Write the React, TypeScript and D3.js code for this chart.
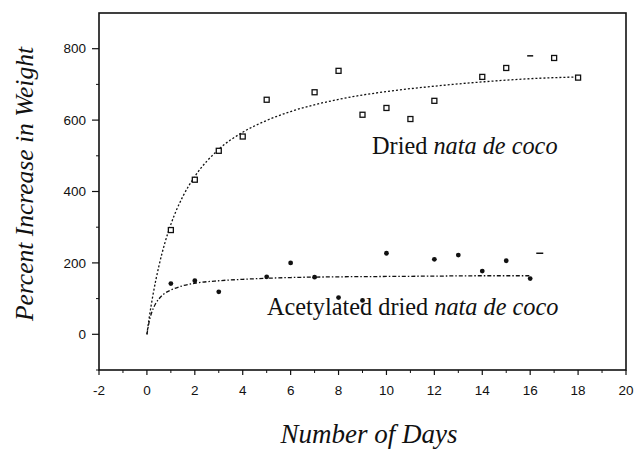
import React from "react";
import * as d3 from "d3";

const xTicks = [-2, 0, 2, 4, 6, 8, 10, 12, 14, 16, 18, 20];
const xMinorTicks = [-1, 1, 3, 5, 7, 9, 11, 13, 15, 17, 19];
const yTicks = [0, 200, 400, 600, 800];
const yMinorTicks = [-100, 100, 300, 500, 700];

const driedDays = [1, 2, 3, 4, 5, 7, 8, 9, 10, 11, 12, 14, 15, 17, 18];
const driedValues = [292, 433, 514, 554, 657, 678, 738, 615, 634, 603, 654, 721, 746, 774, 719];
const driedDashDays = [16];
const driedDashValues = [780];

const acetDays = [1, 2, 3, 5, 6, 7, 8, 9, 10, 12, 13, 14, 15, 16];
const acetValues = [142, 150, 119, 161, 200, 160, 103, 95, 227, 210, 222, 177, 206, 156];
const acetDashDays = [16.4];
const acetDashValues = [227];

const driedFitDays = [0, 0.1, 0.25, 0.5, 0.75, 1, 1.5, 2, 3, 4, 5, 6, 8, 10, 12, 14, 16, 18];
const driedFitValues = [0, 48, 109, 191, 256, 308, 386, 442, 518, 566, 599, 624, 658, 680, 695, 707, 716, 721];
const acetFitDays = [0, 0.1, 0.2, 0.35, 0.5, 0.75, 1, 1.5, 2, 3, 4, 6, 8, 10, 12, 14, 16];
const acetFitValues = [0, 37, 61, 84, 99, 115, 124, 136, 143, 150, 154, 159, 161, 162, 163, 164, 164];

const W = 634;
const H = 449;
const L = 99, R = 626, T = 13, B = 370;

export default function App() {
  const x = d3.scaleLinear().domain([-2, 20]).range([L, R]);
  const y = d3.scaleLinear().domain([-100, 900]).range([B, T]);
  const line = d3
    .line<[number, number]>()
    .x((d) => x(d[0]))
    .y((d) => y(d[1]))
    .curve(d3.curveMonotoneX);
  const driedFit = line(driedFitDays.map((d, i) => [d, driedFitValues[i]]) as [number, number][]);
  const acetFit = line(acetFitDays.map((d, i) => [d, acetFitValues[i]]) as [number, number][]);
  const sans = "'Liberation Sans', Arial, sans-serif";
  const serif = "'Liberation Serif', 'Times New Roman', serif";
  const ink = "#111";

  return (
    <svg width={W} height={H} style={{ position: "absolute", left: 0, top: 0, background: "#fff" }}>
      <rect x={0} y={0} width={W} height={H} fill="#fff" />
      {/* frame */}
      <rect x={L} y={T} width={R - L} height={B - T} fill="none" stroke={ink} strokeWidth={1.6} />
      {/* y ticks */}
      {yTicks.map((t) => (
        <g key={"y" + t}>
          <line x1={L - 7} x2={L} y1={y(t)} y2={y(t)} stroke={ink} strokeWidth={1.2} />
          <text x={L - 13} y={y(t)} dy="0.35em" textAnchor="end" fontFamily={sans} fontSize={13.5} fill={ink}>
            {t}
          </text>
        </g>
      ))}
      {yMinorTicks.map((t) => (
        <line key={"ym" + t} x1={L - 3} x2={L} y1={y(t)} y2={y(t)} stroke={ink} strokeWidth={1} />
      ))}
      {/* x ticks */}
      {xTicks.map((t) => (
        <g key={"x" + t}>
          <line x1={x(t)} x2={x(t)} y1={B} y2={B + 5} stroke={ink} strokeWidth={1.2} />
          <text x={x(t)} y={395} textAnchor="middle" fontFamily={sans} fontSize={13.5} fill={ink}>
            {t}
          </text>
        </g>
      ))}
      {xMinorTicks.map((t) => (
        <line key={"xm" + t} x1={x(t)} x2={x(t)} y1={B} y2={B + 3} stroke={ink} strokeWidth={1} />
      ))}
      {/* fits */}
      <path d={driedFit || ""} fill="none" stroke={ink} strokeWidth={1.3} strokeDasharray="2,2" />
      <path d={acetFit || ""} fill="none" stroke={ink} strokeWidth={1.3} strokeDasharray="4,2,1.5,2" />
      {/* dried points */}
      {driedDays.map((d, i) => (
        <rect
          key={"d" + i}
          x={x(d) - 2.5}
          y={y(driedValues[i]) - 2.5}
          width={5}
          height={5}
          fill="#fff"
          stroke={ink}
          strokeWidth={1.3}
        />
      ))}
      {driedDashDays.map((d, i) => (
        <line key={"dd" + i} x1={x(d) - 3} x2={x(d) + 3} y1={y(driedDashValues[i])} y2={y(driedDashValues[i])} stroke={ink} strokeWidth={1.5} />
      ))}
      {/* acetylated points */}
      {acetDays.map((d, i) => (
        <circle key={"a" + i} cx={x(d)} cy={y(acetValues[i])} r={2.4} fill={ink} />
      ))}
      {acetDashDays.map((d, i) => (
        <line key={"ad" + i} x1={x(d) - 3.5} x2={x(d) + 3.5} y1={y(acetDashValues[i])} y2={y(acetDashValues[i])} stroke={ink} strokeWidth={1.5} />
      ))}
      {/* labels */}
      <text x={372} y={154} fontFamily={serif} fontSize={24.3} fill={ink}>
        Dried <tspan fontStyle="italic">nata de coco</tspan>
      </text>
      <text x={267} y={315} fontFamily={serif} fontSize={24.3} fill={ink}>
        Acetylated dried <tspan fontStyle="italic">nata de coco</tspan>
      </text>
      <text x={369} y={443} textAnchor="middle" fontFamily={serif} fontStyle="italic" fontSize={27} fill={ink}>
        Number of Days
      </text>
      <text
        transform={`translate(33,184) rotate(-90)`}
        textAnchor="middle"
        fontFamily={serif}
        fontStyle="italic"
        fontSize={25.5}
        fill={ink}
      >
        Percent Increase in Weight
      </text>
    </svg>
  );
}
